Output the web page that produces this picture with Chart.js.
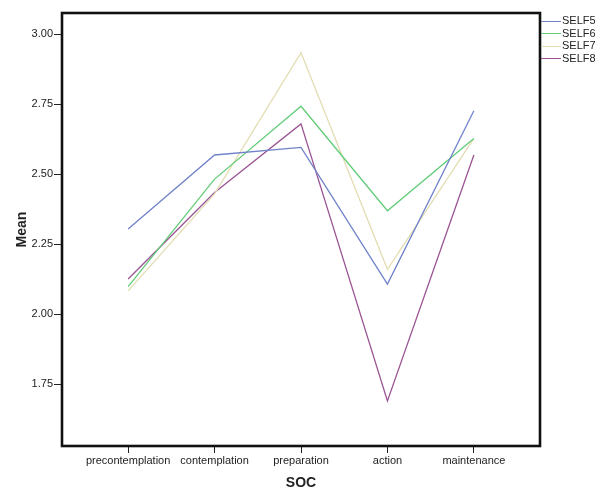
<!DOCTYPE html>
<html>
<head>
<meta charset="utf-8">
<script src="https://cdn.jsdelivr.net/npm/chart.js@4.4.0/dist/chart.umd.min.js"></script>
<style>
  body { margin: 0; background: #fff; }
  #wrap { position: relative; width: 595px; height: 490px; }
  #legend { position: absolute; left: 541px; top: 14px; font: 11px "Liberation Sans", Arial, sans-serif; color: #222; }
  #legend div { height: 12.6px; line-height: 12.6px; white-space: nowrap; }
  #legend span { display: inline-block; width: 20px; height: 0; border-top: 1.3px solid; vertical-align: middle; margin-right: 1px; }
</style>
</head>
<body>
<div id="wrap">
  <canvas id="chart" width="595" height="490"></canvas>
  <div id="legend"></div>
</div>
<script>
const categories = ['precontemplation', 'contemplation', 'preparation', 'action', 'maintenance'];
const seriesNames = ['SELF5', 'SELF6', 'SELF7', 'SELF8'];
const self5 = [2.304, 2.568, 2.595, 2.107, 2.726];
const self6 = [2.098, 2.482, 2.742, 2.369, 2.627];
const self7 = [2.083, 2.429, 2.933, 2.160, 2.627];
const self8 = [2.125, 2.434, 2.679, 1.690, 2.568];
const yTicks = [1.75, 2.00, 2.25, 2.50, 2.75, 3.00];
const colors = ['#7083c9', '#62cc77', '#e3ddb3', '#9b5595'];

const allSeries = [self5, self6, self7, self8];
const font = { family: '"Liberation Sans", Arial, sans-serif', size: 11 };

const boxPlugin = {
  id: 'box',
  afterDraw(chart) {
    const a = chart.chartArea;
    const ctx = chart.ctx;
    ctx.save();
    ctx.strokeStyle = '#111';
    ctx.lineWidth = 2.6;
    ctx.strokeRect(a.left, a.top, a.right - a.left, a.bottom - a.top);
    ctx.restore();
  }
};

new Chart(document.getElementById('chart'), {
  type: 'line',
  data: {
    datasets: allSeries.map((vals, k) => ({
      label: seriesNames[k],
      data: vals.map((v, i) => ({ x: i, y: v })),
      borderColor: colors[k],
      borderWidth: 1.3,
      pointRadius: 0,
      tension: 0,
      fill: false
    }))
  },
  options: {
    responsive: false,
    animation: false,
    layout: { padding: { top: 13, right: 55, left: 0, bottom: 0 } },
    plugins: { legend: { display: false }, tooltip: { enabled: false } },
    scales: {
      x: {
        type: 'linear',
        min: -0.765,
        max: 4.765,
        afterBuildTicks: s => { s.ticks = categories.map((c, i) => ({ value: i })); },
        afterFit: s => { s.height = 44; },
        ticks: { callback: v => categories[v], color: '#222', font, padding: 1, maxRotation: 0, autoSkip: false },
        grid: { drawOnChartArea: false, color: '#222', tickLength: 7 },
        border: { display: false },
        title: { display: true, text: 'SOC', color: '#222', font: { family: font.family, size: 14, weight: 'bold' }, padding: { top: 4, bottom: -2 } }
      },
      y: {
        min: 1.529,
        max: 3.075,
        afterBuildTicks: s => { s.ticks = yTicks.map(v => ({ value: v })); },
        afterFit: s => { s.width = 62; },
        ticks: { callback: v => v.toFixed(2), color: '#222', font, padding: 1 },
        grid: { drawOnChartArea: false, color: '#222', tickLength: 8 },
        border: { display: false },
        title: { display: true, text: 'Mean', color: '#222', font: { family: font.family, size: 14, weight: 'bold' }, padding: { top: 14, bottom: 2 } }
      }
    }
  },
  plugins: [boxPlugin]
});

const legend = document.getElementById('legend');
seriesNames.forEach((name, k) => {
  const row = document.createElement('div');
  row.innerHTML = `<span style="border-color:${colors[k]}"></span>${name}`;
  legend.appendChild(row);
});
</script>
</body>
</html>
